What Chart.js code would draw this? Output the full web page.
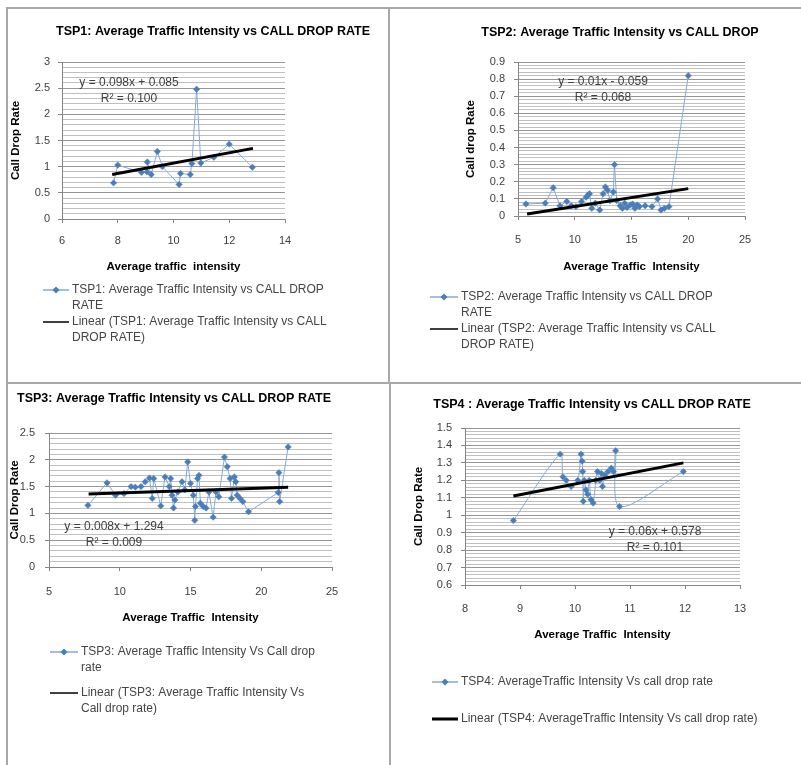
<!DOCTYPE html>
<html>
<head>
<meta charset="utf-8">
<title>TSP Average Traffic Intensity vs Call Drop Rate</title>
<script src="https://cdn.jsdelivr.net/npm/chart.js@4.4.1/dist/chart.umd.min.js"></script>
<style>
  html, body { margin: 0; padding: 0; background: #fff; }
  #page { position: relative; width: 801px; height: 765px; overflow: hidden; background: #fff; }
  #page canvas { position: absolute; left: 0; top: 0; }
  .rule { position: absolute; background: #a8a8a8; }
</style>
</head>
<body>
<div id="page">
  <canvas id="tsp1" width="801" height="765"></canvas>
  <canvas id="tsp2" width="801" height="765"></canvas>
  <canvas id="tsp3" width="801" height="765"></canvas>
  <canvas id="tsp4" width="801" height="765"></canvas>
  <div class="rule" style="left:6px;top:7px;width:795px;height:2px"></div>
  <div class="rule" style="left:6px;top:7px;width:2px;height:758px"></div>
  <div class="rule" style="left:388px;top:7px;width:2px;height:376px"></div>
  <div class="rule" style="left:389px;top:382px;width:2px;height:383px"></div>
  <div class="rule" style="left:6px;top:382px;width:795px;height:2px"></div>
</div>
<script>
// TSP1
const tsp1Traffic = [7.85, 8.0, 8.85, 9.05, 9.06, 9.2, 9.42, 9.6, 10.2, 10.25, 10.6, 10.66, 10.83, 10.98, 11.45, 12.0, 12.83];
const tsp1Drop    = [0.69, 1.03, 0.89, 0.9, 1.09, 0.85, 1.29, 1.0, 0.66, 0.87, 0.85, 1.06, 2.48, 1.07, 1.18, 1.43, 0.99];
const tsp1TrendX  = [7.8, 12.85];
const tsp1TrendY  = [0.85, 1.35];
const tsp1XTicks  = [6, 8, 10, 12, 14];
const tsp1YTicks  = [0, 0.5, 1, 1.5, 2, 2.5, 3];

// TSP2
const tsp2Traffic = [5.7, 7.4, 8.1, 8.7, 9.3, 9.7, 10.1, 10.6, 11.0, 11.2, 11.3, 11.5, 11.8, 12.2, 12.5, 12.7, 12.9, 13.1, 13.4, 13.5, 13.7, 14.0, 14.2, 14.4, 14.6, 14.9, 15.1, 15.3, 15.5, 15.7, 16.2, 16.8, 17.3, 17.6, 17.9, 18.3, 20.0];
const tsp2Drop    = [0.07, 0.075, 0.165, 0.06, 0.085, 0.06, 0.055, 0.085, 0.11, 0.125, 0.13, 0.045, 0.075, 0.035, 0.13, 0.17, 0.15, 0.09, 0.14, 0.3, 0.09, 0.06, 0.045, 0.075, 0.05, 0.065, 0.07, 0.045, 0.065, 0.055, 0.06, 0.055, 0.1, 0.035, 0.045, 0.055, 0.82];
const tsp2TrendX  = [5.8, 20.0];
const tsp2TrendY  = [0.012, 0.16];
const tsp2XTicks  = [5, 10, 15, 20, 25];
const tsp2YTicks  = [0, 0.1, 0.2, 0.3, 0.4, 0.5, 0.6, 0.7, 0.8, 0.9];

// TSP3
const tsp3Traffic = [7.75, 9.1, 9.7, 10.3, 10.8, 11.1, 11.5, 11.8, 12.1, 12.3, 12.4, 12.9, 13.2, 13.5, 13.6, 13.7, 13.8, 13.9, 14.1, 14.4, 14.6, 14.8, 15.0, 15.2, 15.3, 15.35, 15.5, 15.6, 15.7, 15.9, 16.1, 16.3, 16.6, 16.8, 17.0, 17.4, 17.6, 17.8, 17.9, 18.1, 18.2, 18.3, 18.5, 18.7, 19.1, 21.2, 21.25, 21.3, 21.9];
const tsp3Drop    = [1.15, 1.57, 1.34, 1.37, 1.5, 1.49, 1.5, 1.59, 1.66, 1.28, 1.65, 1.14, 1.68, 1.5, 1.65, 1.34, 1.1, 1.25, 1.4, 1.59, 1.44, 1.96, 1.56, 1.34, 0.87, 1.13, 1.65, 1.71, 1.19, 1.13, 1.1, 1.4, 0.93, 1.4, 1.31, 2.05, 1.87, 1.65, 1.28, 1.68, 1.59, 1.34, 1.28, 1.22, 1.03, 1.39, 1.76, 1.22, 2.24];
const tsp3TrendX  = [7.8, 21.9];
const tsp3TrendY  = [1.36, 1.49];
const tsp3XTicks  = [5, 10, 15, 20, 25];
const tsp3YTicks  = [0, 0.5, 1, 1.5, 2, 2.5];

// TSP4
const tsp4Traffic = [8.88, 9.73, 9.78, 9.84, 9.93, 10.05, 10.11, 10.13, 10.14, 10.15, 10.17, 10.2, 10.23, 10.26, 10.29, 10.33, 10.38, 10.41, 10.45, 10.48, 10.5, 10.54, 10.6, 10.66, 10.7, 10.74, 10.81, 11.97];
const tsp4Drop    = [0.97, 1.35, 1.22, 1.2, 1.165, 1.2, 1.35, 1.31, 1.25, 1.08, 1.2, 1.145, 1.12, 1.2, 1.09, 1.07, 1.2, 1.25, 1.2, 1.24, 1.165, 1.23, 1.25, 1.27, 1.25, 1.37, 1.05, 1.25];
const tsp4TrendX  = [8.88, 11.97];
const tsp4TrendY  = [1.11, 1.30];
const tsp4XTicks  = [8, 9, 10, 11, 12, 13];
const tsp4YTicks  = [0.6, 0.7, 0.8, 0.9, 1, 1.1, 1.2, 1.3, 1.4, 1.5];

const FONT = "'Liberation Sans', Arial, sans-serif";
const AXIS = '#868686';
const MAJOR_GRID = '#969696';
const MINOR_GRID = '#bfbfbf';
const SERIES_LINE = '#86a9d8';
const SERIES_MARK = '#4a7ebb';

Chart.defaults.font.family = FONT;

function toPoints(xs, ys) {
    return xs.map((x, i) => ({ x: x, y: ys[i] }));
}

function isMajor(v, step) {
    const r = v / step;
    return Math.abs(r - Math.round(r)) < 1e-6;
}

// title, trendline equation and the wrapped legend
const decorPlugin = {
    id: 'decor',
    afterDraw(chart, args, opts) {
        const ctx = chart.ctx;
        ctx.save();
        ctx.textBaseline = 'middle';

        ctx.font = 'bold 12.5px ' + FONT;
        ctx.fillStyle = '#000';
        ctx.textAlign = 'center';
        ctx.fillText(opts.title.text, opts.title.x, opts.title.y);

        ctx.font = '12px ' + FONT;
        ctx.fillStyle = '#404040';
        opts.equation.lines.forEach((t, i) => {
            ctx.fillText(t, opts.equation.x, opts.equation.y + i * 16);
        });

        ctx.textAlign = 'left';
        opts.legend.forEach(item => {
            ctx.beginPath();
            ctx.moveTo(item.x1, item.y);
            ctx.lineTo(item.x2, item.y);
            if (item.kind === 'series') {
                ctx.strokeStyle = SERIES_LINE;
                ctx.lineWidth = 1.5;
            } else {
                ctx.strokeStyle = '#000';
                ctx.lineWidth = item.width || 1.5;
            }
            ctx.stroke();
            if (item.kind === 'series') {
                const cx = (item.x1 + item.x2) / 2;
                ctx.beginPath();
                ctx.moveTo(cx, item.y - 3.5);
                ctx.lineTo(cx + 3.5, item.y);
                ctx.lineTo(cx, item.y + 3.5);
                ctx.lineTo(cx - 3.5, item.y);
                ctx.closePath();
                ctx.fillStyle = SERIES_MARK;
                ctx.fill();
            }
            ctx.font = '12px ' + FONT;
            ctx.fillStyle = '#454545';
            item.lines.forEach((t, i) => {
                ctx.fillText(t, item.x2 + 3, item.y + i * 16);
            });
        });
        ctx.restore();
    }
};

function makeChart(id, c) {
    const yMajor = c.yTicks[1] - c.yTicks[0];
    return new Chart(document.getElementById(id), {
        type: 'scatter',
        plugins: [decorPlugin],
        data: {
            datasets: [{
                label: c.trendLabel,
                data: toPoints(c.trendX, c.trendY),
                showLine: true,
                borderColor: '#000',
                borderWidth: 3,
                pointRadius: 0,
                order: 0
            }, {
                label: c.seriesLabel,
                data: toPoints(c.xs, c.ys),
                showLine: true,
                borderColor: SERIES_LINE,
                borderWidth: 1,
                pointStyle: 'rectRot',
                pointRadius: 3.2,
                pointBackgroundColor: SERIES_MARK,
                pointBorderColor: SERIES_MARK,
                pointBorderWidth: 0.5,
                tension: c.tension || 0,
                order: 1
            }]
        },
        options: {
            responsive: false,
            animation: false,
            layout: {
                padding: {
                    left: c.yBoxLeft,
                    top: c.area.top,
                    right: 801 - c.area.right,
                    bottom: 765 - c.xBoxBottom
                }
            },
            plugins: {
                legend: { display: false },
                tooltip: { enabled: false },
                decor: c.decor
            },
            scales: {
                x: {
                    type: 'linear',
                    position: 'bottom',
                    min: c.xTicks[0],
                    max: c.xTicks[c.xTicks.length - 1],
                    ticks: {
                        stepSize: c.xTicks[1] - c.xTicks[0],
                        autoSkip: false,
                        maxRotation: 0,
                        padding: c.xPad,
                        color: '#404040',
                        font: { size: 11 }
                    },
                    grid: { drawOnChartArea: false, tickLength: 4, color: AXIS },
                    border: { color: AXIS },
                    title: {
                        display: true,
                        text: c.xTitle,
                        color: '#000',
                        padding: 0,
                        font: { size: 11.5, weight: 'bold' }
                    },
                    afterFit: s => { s.height = c.xBoxBottom - c.area.bottom; }
                },
                y: {
                    type: 'linear',
                    min: c.yTicks[0],
                    max: c.yTicks[c.yTicks.length - 1],
                    ticks: {
                        stepSize: yMajor / 5,
                        autoSkip: false,
                        padding: c.yPad,
                        color: '#404040',
                        font: { size: 11 },
                        callback: v => isMajor(v, yMajor) ? String(+v.toFixed(2)) : ''
                    },
                    grid: {
                        tickLength: 4,
                        color: ctx => isMajor(ctx.tick.value, yMajor) ? MAJOR_GRID : MINOR_GRID,
                        tickColor: ctx => isMajor(ctx.tick.value, yMajor) ? AXIS : 'rgba(0,0,0,0)'
                    },
                    border: { color: AXIS },
                    title: {
                        display: true,
                        text: c.yTitle,
                        color: '#000',
                        padding: 0,
                        font: { size: 11.5, weight: 'bold' }
                    },
                    afterFit: s => { s.width = c.area.left - c.yBoxLeft; }
                }
            }
        }
    });
}

makeChart('tsp1', {
    xs: tsp1Traffic, ys: tsp1Drop, trendX: tsp1TrendX, trendY: tsp1TrendY,
    xTicks: tsp1XTicks, yTicks: tsp1YTicks,
    seriesLabel: 'TSP1: Average Traffic Intensity vs CALL DROP RATE',
    trendLabel: 'Linear (TSP1: Average Traffic Intensity vs CALL DROP RATE)',
    xTitle: 'Average traffic  intensity', yTitle: 'Call Drop Rate',
    area: { left: 62, right: 285, top: 62, bottom: 219 },
    yBoxLeft: 9, yPad: 8, xPad: 11, xBoxBottom: 274,
    decor: {
        title: { text: 'TSP1: Average Traffic Intensity vs CALL DROP RATE', x: 213, y: 32 },
        equation: { lines: ['y = 0.098x + 0.085', 'R\u00b2 = 0.100'], x: 129, y: 83 },
        legend: [
            { kind: 'series', x1: 43, x2: 69, y: 290, lines: ['TSP1: Average Traffic Intensity vs CALL DROP', 'RATE'] },
            { kind: 'trend', x1: 43, x2: 69, y: 322, lines: ['Linear (TSP1: Average Traffic Intensity vs CALL', 'DROP RATE)'] }
        ]
    }
});

makeChart('tsp2', {
    xs: tsp2Traffic, ys: tsp2Drop, trendX: tsp2TrendX, trendY: tsp2TrendY,
    xTicks: tsp2XTicks, yTicks: tsp2YTicks,
    seriesLabel: 'TSP2: Average Traffic Intensity vs CALL DROP RATE',
    trendLabel: 'Linear (TSP2: Average Traffic Intensity vs CALL DROP RATE)',
    xTitle: 'Average Traffic  Intensity', yTitle: 'Call drop Rate',
    area: { left: 518, right: 745, top: 62, bottom: 216 },
    yBoxLeft: 464, yPad: 9, xPad: 13, xBoxBottom: 274,
    decor: {
        title: { text: 'TSP2: Average Traffic Intensity vs CALL DROP', x: 620, y: 33 },
        equation: { lines: ['y = 0.01x - 0.059', 'R\u00b2 = 0.068'], x: 603, y: 82 },
        legend: [
            { kind: 'series', x1: 430, x2: 458, y: 297, lines: ['TSP2: Average Traffic Intensity vs CALL DROP', 'RATE'] },
            { kind: 'trend', x1: 430, x2: 458, y: 329, lines: ['Linear (TSP2: Average Traffic Intensity vs CALL', 'DROP RATE)'] }
        ]
    }
});

makeChart('tsp3', {
    xs: tsp3Traffic, ys: tsp3Drop, trendX: tsp3TrendX, trendY: tsp3TrendY,
    xTicks: tsp3XTicks, yTicks: tsp3YTicks,
    seriesLabel: 'TSP3: Average Traffic Intensity Vs Call drop rate',
    trendLabel: 'Linear (TSP3: Average Traffic Intensity Vs Call drop rate)',
    xTitle: 'Average Traffic  Intensity', yTitle: 'Call Drop Rate',
    area: { left: 49, right: 332, top: 433, bottom: 567 },
    yBoxLeft: 8, yPad: 10, xPad: 14, xBoxBottom: 625,
    decor: {
        title: { text: 'TSP3: Average Traffic Intensity vs CALL DROP RATE', x: 174, y: 399 },
        equation: { lines: ['y = 0.008x + 1.294', 'R\u00b2 = 0.009'], x: 114, y: 527 },
        legend: [
            { kind: 'series', x1: 50, x2: 78, y: 652, lines: ['TSP3: Average Traffic Intensity Vs Call drop', 'rate'] },
            { kind: 'trend', x1: 50, x2: 78, y: 693, lines: ['Linear (TSP3: Average Traffic Intensity Vs', 'Call drop rate)'] }
        ]
    }
});

makeChart('tsp4', {
    xs: tsp4Traffic, ys: tsp4Drop, trendX: tsp4TrendX, trendY: tsp4TrendY,
    xTicks: tsp4XTicks, yTicks: tsp4YTicks, tension: 0.3,
    seriesLabel: 'TSP4: AverageTraffic Intensity Vs call drop rate',
    trendLabel: 'Linear (TSP4: AverageTraffic Intensity Vs call drop rate)',
    xTitle: 'Average Traffic  Intensity', yTitle: 'Call Drop Rate',
    area: { left: 465, right: 740, top: 428, bottom: 585 },
    yBoxLeft: 412, yPad: 9, xPad: 13, xBoxBottom: 642,
    decor: {
        title: { text: 'TSP4 : Average Traffic Intensity vs CALL DROP RATE', x: 592, y: 405 },
        equation: { lines: ['y = 0.06x + 0.578', 'R\u00b2 = 0.101'], x: 655, y: 532 },
        legend: [
            { kind: 'series', x1: 432, x2: 458, y: 682, lines: ['TSP4: AverageTraffic Intensity Vs call drop rate'] },
            { kind: 'trend', x1: 432, x2: 458, y: 719, width: 3, lines: ['Linear (TSP4: AverageTraffic Intensity Vs call drop rate)'] }
        ]
    }
});
</script>
</body>
</html>
